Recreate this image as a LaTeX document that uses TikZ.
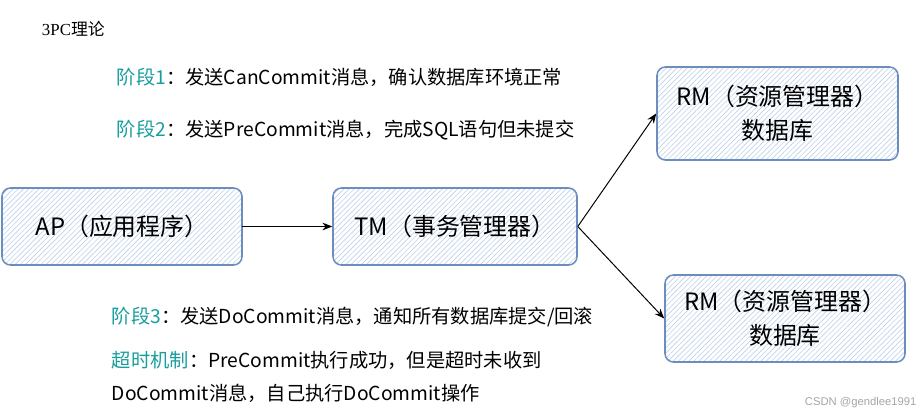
\documentclass[tikz,border=0pt]{standalone}
\usepackage{fontspec}
\setmainfont{Noto Sans CJK SC}
\newfontfamily\titlefont{Liberation Serif}
\newfontfamily\markfont{Liberation Sans}
\usetikzlibrary{arrows.meta,patterns.meta}

\definecolor{boxline}{RGB}{108,142,191}
\definecolor{hatch}{RGB}{190,208,235}
\definecolor{stagecol}{RGB}{25,158,158}
\definecolor{markgray}{RGB}{165,165,165}

\tikzset{
	box/.style={draw=boxline, line width=1.1pt, rounded corners=6pt, inner sep=0pt,
		pattern={Lines[angle=45,distance=2.6pt,line width=0.45pt]}, pattern color=hatch,
		align=center, font=\fontsize{17}{24}\selectfont},
	note/.style={anchor=west, align=left, font=\fontsize{13.7}{23.4}\selectfont},
	link/.style={-{Stealth[length=7pt,width=5.5pt]}, line width=0.7pt}
}

\begin{document}
\begin{tikzpicture}
			\useasboundingbox (0,0) rectangle (22.975,10.35);
			
			% Define nodes
			\node (ap) at (3.05,4.6875) [box, minimum width=6cm, minimum height=1.925cm] {AP（应用程序）};
			\node (tm) at (11.375,4.6875) [box, minimum width=6.1cm, minimum height=1.925cm] {TM（事务管理器）};
			\node (rm1) at (19.4375,7.5125) [box, minimum width=6.025cm, minimum height=2.325cm] {RM（资源管理器）\\数据库};
			\node (rm2) at (19.625,2.3875) [box, minimum width=6cm, minimum height=2.175cm] {RM（资源管理器）\\数据库};
			
			% Draw edges
			\draw[link] (ap) -- (tm);
			\draw[link] (tm.east) -- (rm1.west);
			\draw[link] (tm.east) -- (rm2.west);
			
			% Add phase notes
			\node (title) at (0.925,9.625) [anchor=west, font=\fontsize{12}{14}\selectfont] {{\titlefont 3PC}理论};
			\node (s1) at (2.8,8.425) [note] {{\color{stagecol}阶段1}：发送CanCommit消息，确认数据库环境正常};
			\node (s2) at (2.8,7.1) [note] {{\color{stagecol}阶段2}：发送PreCommit消息，完成SQL语句但未提交};
			\node (s3) at (2.675,2.425) [note] {{\color{stagecol}阶段3}：发送DoCommit消息，通知所有数据库提交/回滚};
			\node (timeout) at (2.675,0.9375) [note] {{\color{stagecol}超时机制}：PreCommit执行成功，但是超时未收到\\DoCommit消息，自己执行DoCommit操作};
			
			\node (mark) at (20,0.275) [anchor=west, text=markgray, font=\markfont\fontsize{8}{10}\selectfont] {CSDN @gendlee1991};
		\end{tikzpicture}
\end{document}
